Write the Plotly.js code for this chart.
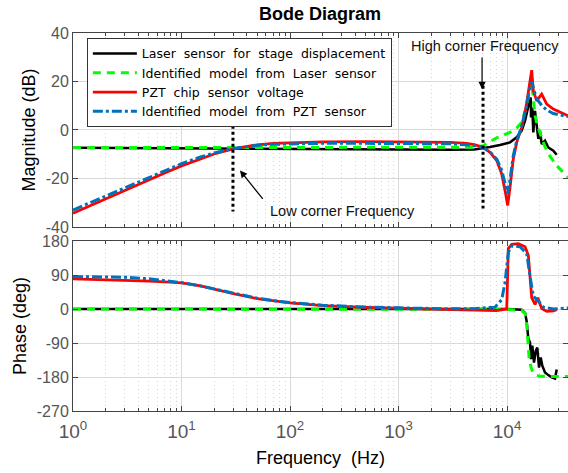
<!DOCTYPE html>
<html>
<head>
<meta charset="utf-8">
<script src="https://cdn.plot.ly/plotly-3.0.1.min.js"></script>
<style>html,body{margin:0;padding:0;background:#fff;}#chart{width:568px;height:473px;}</style>
</head>
<body>
<div id="chart"></div>
<script>
// ---- Data ----
const seriesNames = ['Laser  sensor  for  stage  displacement', 'Identified  model  from  Laser  sensor', 'PZT  chip  sensor  voltage', 'Identified  model  from  PZT  sensor'];

// Magnitude (dB)
const freqLaserMag = [1, 3, 10, 30, 100, 300, 1000, 3000, 5000, 6010, 6970, 8610, 10660, 12280, 13650, 14660, 15710, 16280, 16520, 16640, 17100, 17470, 18110, 18770, 19420, 20130, 20870, 22390, 24030, 26710, 28700];
const magLaser = [-7.3, -7.4, -7.5, -7.6, -8.0, -8.1, -8.1, -8.1, -8.0, -7.6, -7.0, -6.2, -5.1, -3.0, -0.3, 3.8, 10.7, 12.8, 13.4, 5.2, 9.3, -1.0, 7.9, 2.5, -3.7, -0.3, -5.8, -4.4, -7.2, -8.5, -10.2];

const freqLaserModelMag = [1, 10, 100, 1000, 3000, 5000, 6010, 6970, 8040, 9590, 10660, 12280, 13650, 14960, 16060, 16880, 17470, 18110, 19010, 20130, 20870, 22390, 24900, 28700, 32800, 36500];
const magLaserModel = [-7.3, -7.3, -7.3, -7.3, -7.2, -7.1, -6.5, -4.8, -3.2, -1.8, -1.0, 0.8, 3.1, 9.0, 15.5, 20.0, 13.0, 6.0, 2.0, -1.0, -3.5, -7.0, -10.8, -14.7, -17.4, -19.5];

const freqPZTMag = [1, 1.5, 2, 3, 5, 7, 10, 15, 20, 30, 50, 70, 100, 200, 500, 1000, 2000, 3000, 4250, 5000, 6010, 6970, 8040, 8930, 9590, 10140, 10660, 11430, 12280, 13650, 14960, 16060, 16880, 17470, 18770, 20870, 23230, 26710, 36500];
const magPZT = [-34.3, -30.8, -28.3, -24.8, -20.5, -17.7, -14.8, -11.8, -9.9, -7.8, -6.1, -5.5, -5.2, -4.9, -4.8, -4.8, -4.9, -5.1, -5.5, -6.0, -7.1, -9.2, -12.6, -18.1, -25.0, -31.1, -23.6, -11.9, -5.1, 1.1, 9.3, 18.9, 24.7, 16.2, 12.0, 14.8, 10.7, 8.6, 5.9];

const freqPZTModelMag = [1, 1.5, 2, 3, 5, 7, 10, 15, 20, 30, 50, 70, 100, 200, 500, 1000, 2000, 3000, 4250, 5000, 6010, 6970, 8040, 8930, 9590, 10140, 10660, 11430, 12280, 13650, 14960, 16060, 16880, 17820, 19010, 20870, 23230, 26710, 36500];
const magPZTModel = [-33.0, -29.6, -27.2, -23.8, -19.5, -16.8, -13.9, -11.1, -9.5, -7.6, -6.3, -5.9, -5.7, -5.5, -5.5, -5.5, -5.6, -5.7, -6.1, -6.5, -7.3, -9.0, -12.0, -16.5, -22.0, -26.3, -20.5, -10.5, -4.5, 1.5, 9.0, 16.5, 20.0, 16.0, 12.5, 10.2, 8.2, 6.8, 5.5];

// Phase (deg)
const freqLaserPh = [1, 10, 100, 1000, 10000, 13650, 14660, 15180, 15710, 16280, 16640, 17100, 17730, 18400, 19010, 19720, 20460, 21140, 22390, 24030, 25810, 27690, 28700];
const phaseLaser = [0, 0, 0, 0, 0, -2, -10, -33, -79, -88, -133, -97, -142, -111, -102, -155, -128, -150, -168, -175, -181, -184, -160];

const freqLaserModelPh = [1, 10, 100, 1000, 10000, 13650, 14660, 15180, 15490, 16050, 16880, 18110, 20130, 25000, 36500];
const phaseLaserModel = [0, 0, 0, 0, -1, -4, -12, -42, -88, -137, -160, -174, -178, -179, -179];

const freqPZTPh = [1, 3, 5, 7, 10, 15, 20, 30, 50, 70, 100, 200, 300, 500, 1000, 2000, 3000, 5000, 8000, 9940, 10280, 11050, 12700, 14660, 15710, 16280, 16880, 18110, 19200, 20870, 23230, 26710, 28700];
const phasePZT = [80, 77, 74, 72, 69, 61, 52, 41, 27.5, 21, 16, 9, 6, 4, 2, -1, -2, -3, -4, 0, 160, 171, 173, 165, 142, 80, 30, 12, 30, 1, -6, -5, -2];

const freqPZTModelPh = [1, 3, 5, 7, 10, 15, 20, 30, 50, 70, 100, 200, 300, 500, 1000, 2000, 3000, 5000, 7750, 8930, 9590, 10280, 11050, 13180, 15180, 16280, 17470, 19420, 21610, 26710, 36500];
const phasePZTModel = [86, 84, 80, 75, 70, 61, 53, 42, 28.5, 22, 17, 10, 7, 5, 3, 1, 0.5, 1, 5, 25, 70, 150, 167, 165, 147, 88, 34, 21, 5, 0, 3];

// Corner-frequency markers
const cornerFreq = [29.8, 6010];
const cornerTop = [1.8, 18.2];
const cornerBottom = [-33.6, -32.4];

// Axis ticks
const xTickVals = [1, 10, 100, 1000, 10000];
const xTickText = ['10<sup>0</sup>', '10<sup>1</sup>', '10<sup>2</sup>', '10<sup>3</sup>', '10<sup>4</sup>'];
const magTicks = [-40, -20, 0, 20, 40];
const magTickText = ['-40', '-20', '0', '20', '40'];
const phaseTicks = [-270, -180, -90, 0, 90, 180];
const phaseTickText = ['-270', '-180', '-90', '0', '90', '180'];

// ---- Styles ----
const FONT = 'Liberation Sans, Arial, Helvetica, sans-serif';
const styles = [
  {color: '#000000', width: 2.5, dash: 'solid'},
  {color: '#00ff00', width: 3, dash: '8px,6px'},
  {color: '#ff0000', width: 2.8, dash: 'solid'},
  {color: '#0072BD', width: 3, dash: '10px,3px,3px,3px'}
];

const magX = [freqLaserMag, freqLaserModelMag, freqPZTMag, freqPZTModelMag];
const magY = [magLaser, magLaserModel, magPZT, magPZTModel];
const phX = [freqLaserPh, freqLaserModelPh, freqPZTPh, freqPZTModelPh];
const phY = [phaseLaser, phaseLaserModel, phasePZT, phasePZTModel];

const traces = [];
for (let i = 0; i < 4; i++) {
  traces.push({x: magX[i], y: magY[i], xaxis: 'x', yaxis: 'y', type: 'scatter', mode: 'lines',
    name: seriesNames[i], line: {color: styles[i].color, width: styles[i].width, dash: styles[i].dash}, showlegend: true});
}
for (let i = 0; i < 4; i++) {
  traces.push({x: phX[i], y: phY[i], xaxis: 'x2', yaxis: 'y2', type: 'scatter', mode: 'lines',
    name: seriesNames[i], line: {color: styles[i].color, width: styles[i].width, dash: styles[i].dash}, showlegend: false});
}
for (let i = 0; i < cornerFreq.length; i++) {
  traces.push({x: [cornerFreq[i], cornerFreq[i]], y: [cornerTop[i], cornerBottom[i]], xaxis: 'x', yaxis: 'y',
    type: 'scatter', mode: 'lines', line: {color: '#000', width: 3, dash: 'dot'}, showlegend: false, hoverinfo: 'skip'});
}

const xCommon = {
  type: 'log', range: [0, 4.562], tickvals: xTickVals, ticktext: xTickText,
  ticks: 'inside', ticklen: 5, tickcolor: '#444', mirror: 'ticks', showline: true, linecolor: '#444', linewidth: 1,
  showgrid: true, gridcolor: '#d9d9d9', gridwidth: 1, zeroline: false,
  minor: {dtick: 'D1', ticks: 'inside', ticklen: 3, tickcolor: '#444', showgrid: true, gridcolor: '#d4d4d4', griddash: '1px,3px', gridwidth: 1},
  tickfont: {family: FONT, size: 19, color: '#555'}, ticklabelstandoff: 3
};
const yCommon = {
  ticks: 'inside', ticklen: 5, tickcolor: '#444', mirror: 'ticks', showline: true, linecolor: '#444', linewidth: 1,
  showgrid: true, gridcolor: '#d9d9d9', gridwidth: 1, zeroline: false,
  tickfont: {family: FONT, size: 16, color: '#555'}
};

const layout = {
  width: 568, height: 473,
  margin: {l: 73, r: 0, t: 33, b: 62},
  paper_bgcolor: '#fff', plot_bgcolor: '#fff',
  title: {text: '<b>Bode Diagram</b>', font: {family: FONT, size: 18, color: '#000'}, x: 0.5635, xanchor: 'center', y: 0.97, yanchor: 'middle', yref: 'container'},
  xaxis: Object.assign({}, xCommon, {anchor: 'y', showticklabels: false}),
  xaxis2: Object.assign({}, xCommon, {anchor: 'y2', matches: 'x', showticklabels: true,
    title: {text: 'Frequency  (Hz)', font: {family: FONT, size: 18, color: '#000'}, standoff: 10}}),
  yaxis: Object.assign({}, yCommon, {domain: [0.4868, 1], range: [-40, 40], tickvals: magTicks, ticktext: magTickText, anchor: 'x',
    title: {text: 'Magnitude (dB)', font: {family: FONT, size: 18, color: '#000'}, standoff: 5}}),
  yaxis2: Object.assign({}, yCommon, {domain: [0, 0.4497], range: [-270, 180], tickvals: phaseTicks, ticktext: phaseTickText, anchor: 'x2',
    title: {text: 'Phase (deg)', font: {family: FONT, size: 18, color: '#000'}, standoff: 5}}),
  legend: {x: 0.028, y: 0.987, xanchor: 'left', yanchor: 'top', bgcolor: '#fff', bordercolor: '#333', borderwidth: 1,
    font: {family: 'DejaVu Sans, sans-serif', size: 12.5, color: '#000'}, itemwidth: 44, tracegroupgap: 0},
  showlegend: true,
  annotations: [
    {xref: 'x', yref: 'y', x: Math.log10(1258), y: 34.7, text: 'High corner Frequency', showarrow: false, xanchor: 'left', yanchor: 'middle',
      font: {family: FONT, size: 14.5, color: '#111'}},
    {xref: 'x', yref: 'y', x: Math.log10(5888), y: 16.9, text: '', showarrow: true, ax: 0, ay: -33, arrowhead: 2, arrowsize: 1.2, arrowwidth: 1.2, arrowcolor: '#000'},
    {xref: 'x', yref: 'y', x: Math.log10(62.7), y: -33.6, text: 'Low corner Frequency', showarrow: false, xanchor: 'left', yanchor: 'middle',
      font: {family: FONT, size: 14.5, color: '#111'}},
    {xref: 'x', yref: 'y', x: Math.log10(34.6), y: -16.7, text: '', showarrow: true, ax: 24, ay: 30, arrowhead: 2, arrowsize: 1.2, arrowwidth: 1.2, arrowcolor: '#000'}
  ]
};

Plotly.newPlot('chart', traces, layout, {staticPlot: true, displayModeBar: false});
</script>
</body>
</html>
